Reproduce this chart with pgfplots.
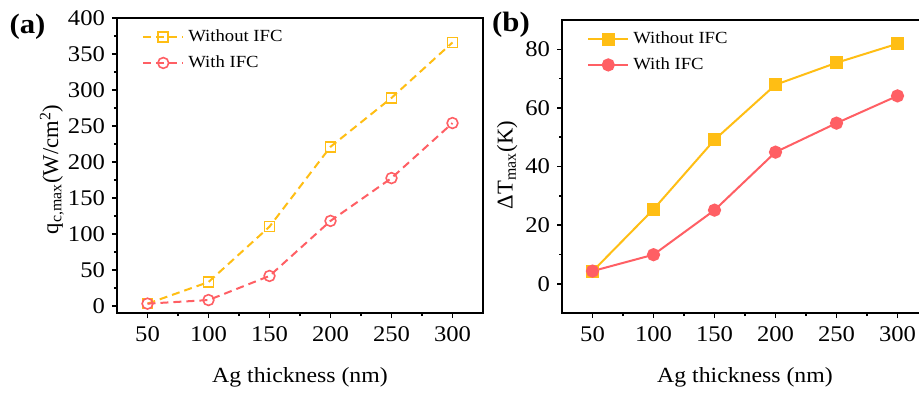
\documentclass[border=0pt]{standalone}
\usepackage{pgfplots}
\pgfplotsset{compat=1.18}
\usepackage{fontspec}
\setmainfont{Liberation Serif}[FakeStretch=1.1]
\newfontfamily\ylabfont{Liberation Serif}
\definecolor{cOr}{RGB}{255,190,20}
\definecolor{cRd}{RGB}{255,95,100}
\pgfplotsset{
  common/.style={
    scale only axis,
    width=183pt,
    xmin=25, xmax=325,
    xtick={50,100,150,200,250,300},
    minor x tick num=1,
    tick align=outside,
    xtick pos=lower, ytick pos=left,
    major tick length=2.5pt, minor tick length=1.5pt,
    axis line style={line width=1pt},
    every tick/.style={line width=0.8pt, black},
    tick label style={font=\fontsize{11.2}{13}\selectfont},
    xticklabel style={yshift=-0.8pt},
    xlabel style={font=\fontsize{10.8}{13}\selectfont},
    ylabel style={font=\ylabfont\fontsize{11.3}{13}\selectfont},
    /pgf/number format/assume math mode=true,
    legend cell align=left,
    legend style={draw=none, fill=none, font=\fontsize{8.5}{11}\selectfont, inner sep=0pt, row sep=1.5pt, anchor=north west},
    legend image code/.code={\draw[mark repeat=2,mark phase=2] plot coordinates {(0pt,0pt)(10pt,0pt)(20pt,0pt)};},
  }
}
\begin{document}
\begin{tikzpicture}
\path[use as bounding box, clip] (0,0) rectangle (459.5pt,196pt);
\fill[white] (0,0) rectangle (459.5pt,196pt);
\begin{axis}[common,
  at={(58.5pt,39.5pt)}, anchor=south west,
  height=147.5pt,
  ymin=-10, ymax=400,
  ytick={0,50,100,150,200,250,300,350,400},
  minor y tick num=1,
  xlabel={Ag thickness (nm)},
  ylabel={q\textsubscript{c,max}(W/cm\textsuperscript{2})},
  xlabel style={at={(axis description cs:0.5,-0.217)}, anchor=center},
  ylabel style={at={(axis description cs:-0.178,0.487)}, anchor=center},
  legend style={at={(axis description cs:0.068,0.975)}},
]
\addplot[color=cOr, line width=1pt, dash pattern=on 4pt off 2.5pt, mark=square, mark size=2.5pt, mark options={solid, line width=0.8pt, fill=white}]
  coordinates {(50,3)(100,33)(150,110)(200,221)(250,289)(300,366)};
\addlegendentry{Without IFC}
\addplot[color=cRd, line width=1pt, dash pattern=on 4pt off 2.5pt, mark=o, mark size=2.7pt, mark options={solid, line width=0.8pt, fill=white}]
  coordinates {(50,3)(100,8)(150,41.5)(200,118)(250,177.5)(300,254)};
\addlegendentry{With IFC}
\end{axis}
\begin{axis}[common,
  at={(281pt,39.5pt)}, anchor=south west,
  height=146.5pt,
  ymin=-10, ymax=90,
  ytick={0,20,40,60,80},
  minor y tick num=1,
  xlabel={Ag thickness (nm)},
  ylabel={ΔT\textsubscript{max}(K)},
  xlabel style={at={(axis description cs:0.5,-0.219)}, anchor=center},
  ylabel style={at={(axis description cs:-0.150,0.505)}, anchor=center},
  legend style={at={(axis description cs:0.068,0.975)}},
]
\addplot[color=cOr, line width=1pt, mark=square*, mark size=2.7pt, mark options={fill=cOr}]
  coordinates {(50,4.2)(100,25.4)(150,49.1)(200,67.9)(250,75.4)(300,81.9)};
\addlegendentry{Without IFC}
\addplot[color=cRd, line width=1pt, mark=*, mark size=2.8pt, mark options={fill=cRd}]
  coordinates {(50,4.3)(100,9.9)(150,25.1)(200,44.9)(250,54.8)(300,64.1)};
\addlegendentry{With IFC}
\end{axis}
\node[font=\fontsize{14}{16}\selectfont\bfseries] at (13.75pt,182.5pt) {(a)};
\node[font=\fontsize{14}{16}\selectfont\bfseries] at (255.5pt,183.5pt) {(b)};
\end{tikzpicture}
\end{document}
